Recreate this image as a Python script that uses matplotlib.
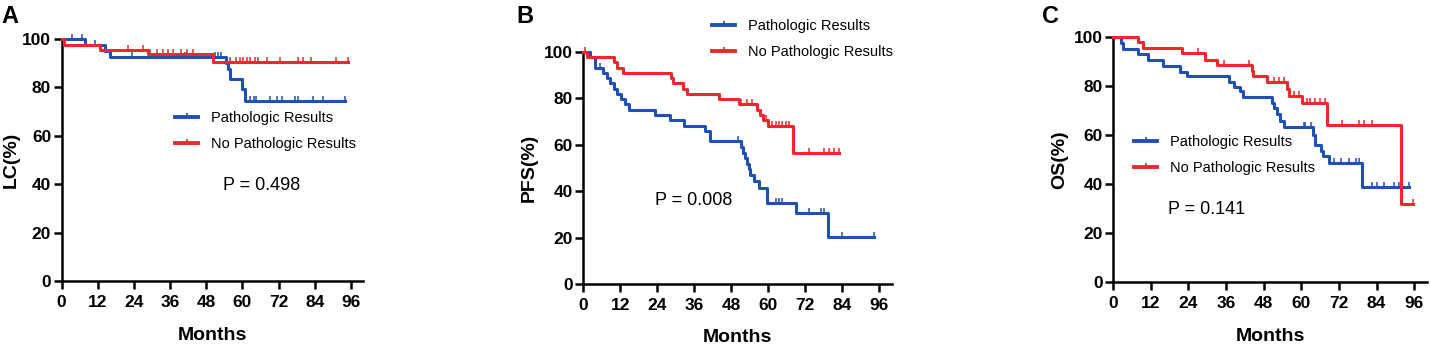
"""
Kaplan-Meier curves: LC / PFS / OS, pathologic vs no pathologic results
"""

import numpy as np
import matplotlib.pyplot as plt
from matplotlib.lines import Line2D

plt.rcParams['font.family'] = ['Liberation Sans', 'DejaVu Sans']

BLUE = '#2150b4'
RED = '#f0282d'

# --- A: LC ---
lc_path_t = [0, 7.7, 14.4, 16.0, 54.4, 55.3, 55.8, 59.7, 61.0, 94.0]
lc_path_s = [100, 97.6, 95.2, 92.7, 90.2, 87.8, 83.5, 79.2, 74.4, 74.4]
lc_path_cens = [3.3, 6.6, 11.0, 23.2, 41.0, 51.0, 52.0, 52.8, 62.5, 63.8, 64.5, 69.1,
                71.5, 73.0, 77.4, 78.5, 83.5, 86.8, 94.0]
lc_nopath_t = [0, 0.8, 12.7, 28.8, 50.3, 95.0]
lc_nopath_s = [100, 97.5, 95.3, 93.6, 90.4, 90.4]
lc_nopath_cens = [22.1, 27.1, 29.3, 31.5, 33.5, 35.4, 37.0, 39.6, 41.5, 43.7, 55.8, 58.0,
                  59.2, 60.3, 61.4, 62.5, 64.1, 65.3, 68.0, 72.4, 78.5, 80.2, 82.9, 91.2, 95.0]

# --- B: PFS ---
pfs_path_t = [0, 2.2, 3.8, 6.3, 7.6, 8.7, 9.9, 11.0, 12.3, 13.5, 14.8, 23.3, 28.0, 32.5,
              39.6, 41.2, 51.0, 51.7, 52.4, 53.0, 53.6, 54.2, 55.3, 57.0, 59.7, 68.9,
              79.2, 94.3]
pfs_path_s = [100, 97.7, 93.2, 90.9, 88.6, 86.4, 84.1, 81.8, 79.5, 77.3, 75.0, 72.7, 70.5,
              68.2, 65.9, 61.4, 59.0, 56.6, 54.2, 51.8, 49.4, 47.0, 44.2, 41.4, 34.8, 30.6,
              20.4, 20.4]
pfs_path_cens = [5.4, 50.0, 62.5, 63.5, 64.5, 73.2, 77.0, 78.1, 84.0, 94.3]
pfs_nopath_t = [0, 1.1, 9.8, 10.8, 13.0, 28.4, 29.0, 32.3, 33.6, 43.9, 50.4, 56.2, 57.3,
                58.4, 59.9, 68.0, 82.8]
pfs_nopath_s = [100, 97.7, 95.4, 93.2, 90.9, 88.6, 86.4, 84.1, 81.8, 79.5, 77.3, 75.0,
                72.7, 70.5, 68.2, 56.3, 56.3]
pfs_nopath_cens = [0.5, 32.8, 43.9, 51.0, 53.2, 54.8, 57.5, 59.1, 61.3, 62.4, 63.5, 64.5,
                   65.6, 66.7, 73.2, 78.1, 79.7, 81.4, 82.8]

# --- C: OS ---
os_path_t = [0, 2.5, 3.2, 8.0, 11.2, 16.0, 21.3, 23.5, 37.0, 38.4, 40.5, 41.3, 50.7, 51.3,
             52.2, 53.3, 54.5, 63.7, 64.3, 66.3, 67.0, 68.8, 79.5, 94.4]
os_path_s = [100, 97.6, 95.2, 92.9, 90.5, 88.1, 85.7, 83.9, 81.6, 79.3, 77.7, 75.4, 73.1,
             70.8, 68.4, 65.8, 63.0, 60.0, 55.8, 53.5, 51.4, 48.3, 38.5, 38.5]
os_path_cens = [50.7, 51.7, 60.8, 61.3, 63.0, 70.4, 72.5, 75.2, 77.3, 78.4, 82.7, 84.3,
                86.4, 89.6, 91.2, 94.4]
os_nopath_t = [0, 8.0, 9.6, 21.9, 29.3, 33.0, 44.3, 44.6, 49.0, 55.5, 56.0, 60.3, 68.3,
               91.7, 95.5]
os_nopath_s = [100, 97.8, 95.5, 93.2, 90.7, 88.6, 86.2, 83.8, 81.5, 78.8, 76.0, 72.8,
               63.8, 31.8, 31.8]
os_nopath_cens = [26.9, 35.2, 43.2, 51.2, 52.8, 54.4, 57.6, 59.2, 61.9, 62.9, 64.5, 66.1,
                  67.7, 73.1, 78.4, 80.0, 82.7, 95.5]

series_labels = ['Pathologic Results', 'No Pathologic Results']
x_ticks = [0, 12, 24, 36, 48, 60, 72, 84, 96]
y_ticks = [0, 20, 40, 60, 80, 100]

CENS = [(0, 0), (0, 1)]  # upward tick mark


def km(ax, t, s, cens, color):
    t = np.asarray(t)
    s = np.asarray(s)
    ax.step(t, s, where='post', color=color, lw=2.2, clip_on=False, zorder=3)
    idx = np.searchsorted(t, cens, side='right') - 1
    ax.plot(cens, s[idx], ls='none', marker=CENS, ms=7, mew=1.1, color=color,
            clip_on=False, zorder=3)


def style(ax, ylabel):
    ax.set_xlim(0, 100)
    ax.set_ylim(0, 100)
    ax.set_xticks(x_ticks)
    ax.set_yticks(y_ticks)
    for side in ['top', 'right']:
        ax.spines[side].set_visible(False)
    for side in ['left', 'bottom']:
        ax.spines[side].set_linewidth(1.8)
    ax.tick_params(axis='x', length=6, width=1.8, pad=4, labelsize=12.5)
    ax.tick_params(axis='y', length=6, width=1.8, pad=1.5, labelsize=12.5)
    for lab in ax.get_xticklabels() + ax.get_yticklabels():
        lab.set_fontweight('bold')
    ax.set_xlabel('Months', fontsize=14, fontweight='bold')
    ax.set_ylabel(ylabel, fontsize=14, fontweight='bold')


def legend(ax, x, y):
    handles = [Line2D([], [], color=c, lw=2.8, marker=CENS, ms=6, mew=1.2)
               for c in (BLUE, RED)]
    ax.legend(handles, series_labels, loc='upper left', bbox_to_anchor=(x, y),
              frameon=False, fontsize=10.5, handlelength=1.6, handletextpad=0.85,
              labelspacing=0.8, borderpad=0, borderaxespad=0, numpoints=1)


fig = plt.figure(figsize=(14.3, 3.46), dpi=100)
axA = fig.add_axes([0.0431, 0.1879, 0.2107, 0.6994])
axB = fig.add_axes([0.4079, 0.1783, 0.2157, 0.6723])
axC = fig.add_axes([0.7785, 0.1858, 0.2192, 0.7080])

km(axA, lc_path_t, lc_path_s, lc_path_cens, BLUE)
km(axA, lc_nopath_t, lc_nopath_s, lc_nopath_cens, RED)
style(axA, 'LC(%)')
legend(axA, 0.376, 0.702)
axA.text(0.535, 0.393, 'P = 0.498', transform=axA.transAxes, fontsize=13, va='center')

km(axB, pfs_path_t, pfs_path_s, pfs_path_cens, BLUE)
km(axB, pfs_nopath_t, pfs_nopath_s, pfs_nopath_cens, RED)
style(axB, 'PFS(%)')
legend(axB, 0.417, 1.14)
axB.text(0.232, 0.362, 'P = 0.008', transform=axB.transAxes, fontsize=13, va='center')

km(axC, os_path_t, os_path_s, os_path_cens, BLUE)
km(axC, os_nopath_t, os_nopath_s, os_nopath_cens, RED)
style(axC, 'OS(%)')
legend(axC, 0.066, 0.599)
axC.text(0.175, 0.293, 'P = 0.141', transform=axC.transAxes, fontsize=13, va='center')

for ax, fx, fy in [(axA, -0.138, -0.19), (axB, -0.147, -0.192), (axC, -0.145, -0.19)]:
    ax.yaxis.set_label_coords(fx, 0.5)
    ax.xaxis.set_label_coords(0.5, fy)

for letter, x in [('A', 0.001), ('B', 0.3613), ('C', 0.7285)]:
    fig.text(x, 0.985, letter, fontsize=17, fontweight='bold', va='top', ha='left')

fig.savefig('out.png', dpi=100)
plt.close(fig)
